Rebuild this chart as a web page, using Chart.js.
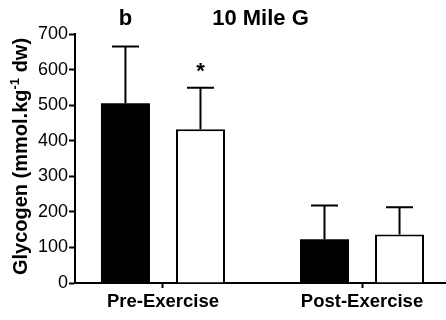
<!DOCTYPE html>
<html>
<head>
<meta charset="utf-8">
<script src="https://cdn.jsdelivr.net/npm/chart.js@4"></script>
<style>
    body { margin: 0; background: #fff; }
    #grafico { display: block; }
</style>
</head>
<body>
<canvas id="grafico" width="446" height="320"></canvas>
<script>
// Datos del gráfico
const categorias = ['Pre-Exercise', 'Post-Exercise'];
const mediasNegro = [505, 123];
const errorNegro = [160, 95];
const mediasBlanco = [432, 136];
const errorBlanco = [117, 77];
const ticksY = [0, 100, 200, 300, 400, 500, 600, 700];
const titulo = '10 Mile G';
const tituloEjeY = ['Glycogen (mmol.kg', '-1', ' dw)'];
const marcaNegro = 'b';   // encima de la barra negra Pre
const marcaBlanco = '*';  // encima de la barra blanca Pre

const FUENTE = "'Liberation Sans', Arial, sans-serif";

// Posición de cada categoría en el eje x lineal (1, 2, ...)
const puntos = (valores) => valores.map((v, i) => ({ x: i + 1, y: v }));

// Barras de error, título y anotaciones
const pluginExtras = {
    id: 'extras',
    afterDatasetsDraw: function(chart) {
        const ctx = chart.ctx;
        const escalaY = chart.scales.y;
        const area = chart.chartArea;

        ctx.save();
        ctx.strokeStyle = '#000';
        ctx.lineWidth = 2;
        [errorNegro, errorBlanco].forEach((errores, d) => {
            const meta = chart.getDatasetMeta(d);
            meta.data.forEach((barra, i) => {
                const valor = chart.data.datasets[d].data[i].y;
                const tope = escalaY.getPixelForValue(valor + errores[i]);
                ctx.beginPath();
                ctx.moveTo(barra.x, barra.y);
                ctx.lineTo(barra.x, tope);
                ctx.moveTo(barra.x - 13.5, tope);
                ctx.lineTo(barra.x + 13.5, tope);
                ctx.stroke();
            });
        });

        ctx.fillStyle = '#000';
        ctx.textAlign = 'center';
        ctx.textBaseline = 'alphabetic';
        ctx.font = 'bold 22px ' + FUENTE;
        ctx.fillText(titulo, (area.left + area.right) / 2, 25);

        // "b" sobre la barra negra, "*" sobre el error de la blanca
        const barraNegra = chart.getDatasetMeta(0).data[0];
        ctx.fillText(marcaNegro, barraNegra.x, 25);
        const barraBlanca = chart.getDatasetMeta(1).data[0];
        const topeBlanco = escalaY.getPixelForValue(mediasBlanco[0] + errorBlanco[0]);
        ctx.fillText(marcaBlanco, barraBlanca.x, topeBlanco - 10);

        // Título del eje Y con superíndice
        ctx.translate(27, (area.top + area.bottom) / 2 - 2);
        ctx.rotate(-Math.PI / 2);
        const fNormal = 'bold 20px ' + FUENTE;
        const fSup = 'bold 13px ' + FUENTE;
        ctx.font = fNormal;
        const w0 = ctx.measureText(tituloEjeY[0]).width;
        const w2 = ctx.measureText(tituloEjeY[2]).width;
        ctx.font = fSup;
        const w1 = ctx.measureText(tituloEjeY[1]).width;
        let x = -(w0 + w1 + w2) / 2;
        ctx.textAlign = 'left';
        ctx.font = fNormal;
        ctx.fillText(tituloEjeY[0], x, 0);
        x += w0;
        ctx.font = fSup;
        ctx.fillText(tituloEjeY[1], x, -8);
        x += w1;
        ctx.font = fNormal;
        ctx.fillText(tituloEjeY[2], x, 0);
        ctx.restore();
    }
};

const ctx = document.getElementById('grafico').getContext('2d');
new Chart(ctx, {
    type: 'bar',
    data: {
        datasets: [
            {
                data: puntos(mediasNegro),
                backgroundColor: '#000',
                borderWidth: 0
            },
            {
                data: puntos(mediasBlanco),
                backgroundColor: '#fff',
                borderColor: '#000',
                borderWidth: 2
            }
        ]
    },
    options: {
        responsive: false,
        animation: false,
        categoryPercentage: 0.754,
        barPercentage: 0.653,
        layout: { padding: { top: 34, right: 0, bottom: 0, left: 0 } },
        plugins: {
            legend: { display: false },
            tooltip: { enabled: false }
        },
        scales: {
            x: {
                type: 'linear',
                offset: false,
                min: 0.558,
                max: 2.422,
                afterBuildTicks: (escala) => {
                    escala.ticks = categorias.map((c, i) => ({ value: i + 1 }));
                },
                afterFit: (escala) => { escala.height = 37; },
                ticks: {
                    callback: (valor) => categorias[Math.round(valor) - 1] || '',
                    autoSkip: false,
                    maxRotation: 0,
                    color: '#000',
                    padding: 3,
                    font: { family: FUENTE, size: 18.5, weight: 'bold' }
                },
                grid: {
                    offset: false,
                    drawOnChartArea: false,
                    tickLength: 5,
                    tickWidth: 2,
                    color: '#000'
                },
                border: { color: '#000', width: 2 }
            },
            y: {
                min: 0,
                max: 700,
                afterBuildTicks: (escala) => {
                    escala.ticks = ticksY.map(v => ({ value: v }));
                },
                afterFit: (escala) => { escala.width = 75; },
                ticks: {
                    color: '#000',
                    padding: 1,
                    font: { family: FUENTE, size: 18 }
                },
                grid: {
                    drawOnChartArea: false,
                    tickLength: 6,
                    tickWidth: 2,
                    color: '#000'
                },
                border: { color: '#000', width: 2 }
            }
        }
    },
    plugins: [pluginExtras]
});
</script>
</body>
</html>
